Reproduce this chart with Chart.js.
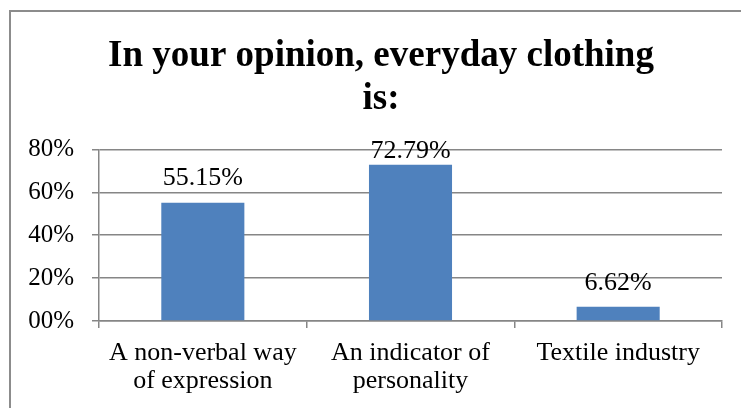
<!DOCTYPE html>
<html>
<head>
<meta charset="utf-8">
<script src="https://cdn.jsdelivr.net/npm/chart.js@4"></script>
<style>
  body { margin: 0; background: #fff; }
  #wrap { position: relative; width: 741px; height: 408px; overflow: hidden; }
  #frame { position: absolute; left: 9px; top: 10px; width: 800px; height: 450px; border: 2px solid #8c8c8c; }
  canvas { position: absolute; left: 0; top: 0; }
</style>
</head>
<body>
<div id="wrap">
  <div id="frame"></div>
  <canvas id="grafico" width="741" height="408"></canvas>
</div>
<script>
const categorias = [
    ['A non-verbal way', 'of expression'],
    ['An indicator of', 'personality'],
    'Textile industry'
];
const valores = [55.15, 72.79, 6.62];
const rotulos = ['55.15%', '72.79%', '6.62%'];
const ticksY = [0, 20, 40, 60, 80];

const fonte = 'Liberation Serif, Times New Roman, serif';

// rótulos de valor acima das barras
const rotulosPlugin = {
    id: 'rotulos',
    afterDatasetsDraw(chart) {
        const ctx = chart.ctx;
        const meta = chart.getDatasetMeta(0);
        ctx.save();
        ctx.font = '26px ' + fonte;
        ctx.fillStyle = '#000';
        ctx.textAlign = 'center';
        ctx.textBaseline = 'middle';
        meta.data.forEach((bar, i) => {
            const y = Math.max(bar.y - 24, chart.chartArea.top + 2);
            ctx.fillText(rotulos[i], bar.x, y);
        });
        ctx.restore();
    }
};

// o título no original fica um pouco à direita do centro
const deslocaTitulo = {
    id: 'deslocaTitulo',
    beforeDraw(chart) {
        const t = chart.titleBlock;
        if (t && !t._deslocado) {
            t.left += 20;
            t.right += 20;
            t._deslocado = true;
        }
    }
};

new Chart(document.getElementById('grafico').getContext('2d'), {
    type: 'bar',
    data: {
        labels: categorias,
        datasets: [{
            data: valores,
            backgroundColor: '#4f81bd',
            barPercentage: 0.4,
            categoryPercentage: 1
        }]
    },
    options: {
        responsive: false,
        animation: false,
        layout: { padding: { left: 0, right: 19, top: 0, bottom: 0 } },
        plugins: {
            legend: { display: false },
            tooltip: { enabled: false },
            title: {
                display: true,
                text: ['In your opinion, everyday clothing', 'is:'],
                color: '#000',
                font: { family: fonte, size: 37, weight: 'bold', lineHeight: 1.16 },
                padding: { top: 35, bottom: 28.5 }
            }
        },
        scales: {
            x: {
                grid: { drawOnChartArea: false, color: '#868686', lineWidth: 1.5, tickLength: 7, offset: true },
                border: { color: '#868686', width: 1.5 },
                ticks: { color: '#000', font: { family: fonte, size: 26, lineHeight: 1.08 }, padding: 11, maxRotation: 0 },
                afterFit(scale) { scale.height = 87; }
            },
            y: {
                min: 0,
                max: 80,
                afterBuildTicks(scale) { scale.ticks = ticksY.map(v => ({ value: v })); },
                grid: { color: '#868686', lineWidth: 1.5, tickLength: 7 },
                border: { color: '#868686', width: 1.5 },
                ticks: {
                    color: '#000',
                    font: { family: fonte, size: 25 },
                    padding: 18,
                    callback: v => String(v).padStart(2, '0') + '%'
                },
                afterFit(scale) { scale.width = 99; }
            }
        }
    },
    plugins: [rotulosPlugin, deslocaTitulo]
});
</script>
</body>
</html>
